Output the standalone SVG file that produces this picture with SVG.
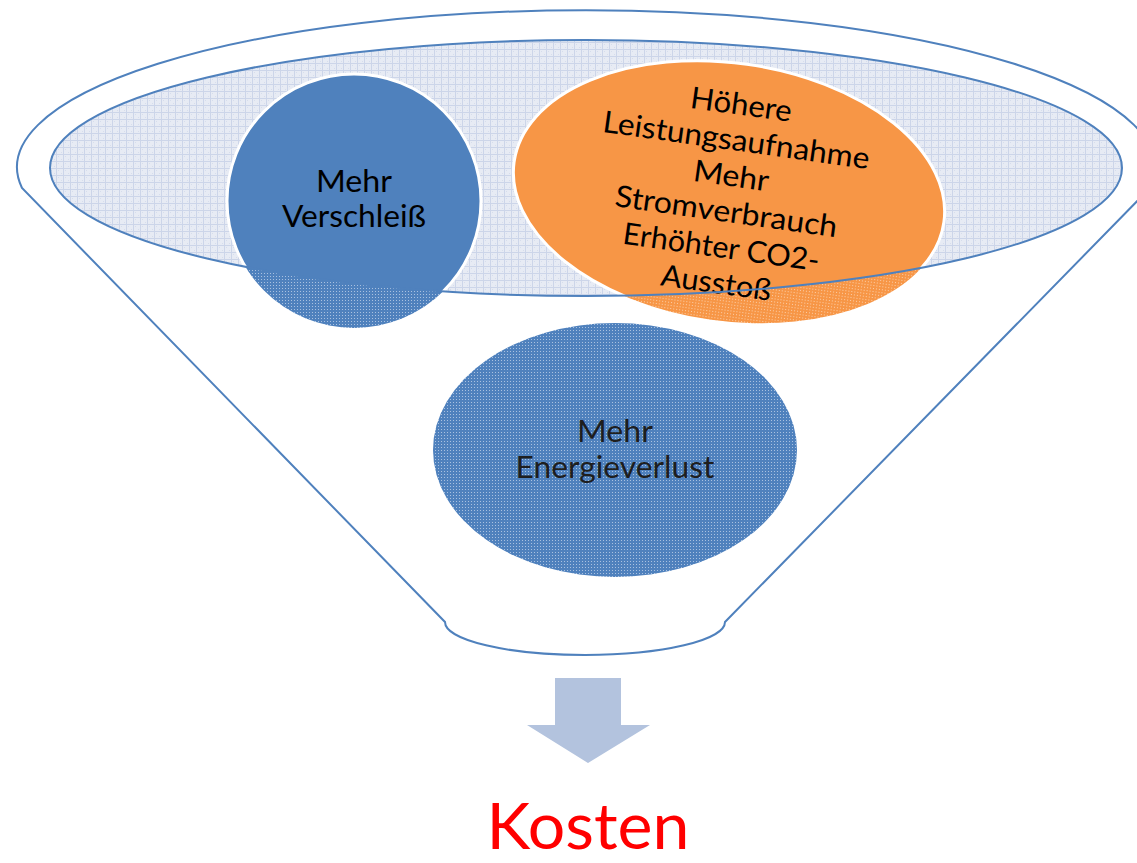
<svg xmlns="http://www.w3.org/2000/svg" width="1137" height="863" viewBox="0 0 1137 863">
<style>
.outline{fill:none;stroke:#4f81bd;stroke-width:2}
.lbl{font-family:Lato,"Open Sans","Liberation Sans",sans-serif;font-size:30px;fill:#000;text-anchor:middle}
.dark{fill:#1e1e1e}
.kosten{font-family:Lato,"Open Sans","Liberation Sans",sans-serif;font-size:64px;fill:#ff0000;text-anchor:middle}
</style>
<defs>
<pattern id="grid" width="7" height="7" patternUnits="userSpaceOnUse">
<rect width="7" height="7" fill="#e7ebf4"/>
<rect x="2" y="2" width="1" height="1" fill="#d6ddec"/>
<rect x="5" y="5" width="1" height="1" fill="#d6ddec"/>
<path d="M0 0.5H7M0.5 0V7" stroke="#ccd5e9" stroke-width="1"/>
</pattern>
<pattern id="dotB" width="3" height="3" patternUnits="userSpaceOnUse">
<rect width="3" height="3" fill="#4f81bd"/>
<rect width="1" height="1" fill="#a9c1e0"/>
</pattern>
<pattern id="dotO" width="3" height="3" patternUnits="userSpaceOnUse">
<rect width="3" height="3" fill="#f79646"/>
<rect width="1" height="1" fill="#fbcfa9"/>
</pattern>
<clipPath id="inner">
<ellipse cx="586" cy="168" rx="536" ry="128"/>
</clipPath>
<clipPath id="innerR">
<ellipse cx="586" cy="168" rx="536" ry="128" transform="rotate(-8 729 192)"/>
</clipPath>
</defs>

<g id="funnel">
<path class="outline" d="M22 188 A569 157 0 1 1 1150 188 L725 622 A140 33 0 0 1 445 622 Z"/>
<ellipse cx="586" cy="168" rx="536" ry="128" fill="url(#grid)"/>
</g>

<g id="node-verschleiss">
<circle cx="354" cy="201" r="127" fill="url(#dotB)"/>
<circle cx="354" cy="201" r="127" fill="#4f81bd" stroke="#ffffff" stroke-width="3" clip-path="url(#inner)"/>
<text class="lbl" x="354" y="192" textLength="76" lengthAdjust="spacingAndGlyphs">Mehr</text>
<text class="lbl" x="354" y="227" textLength="144" lengthAdjust="spacingAndGlyphs">Verschleiß</text>
</g>

<g id="node-leistung">
<g transform="rotate(8 729 192)">
<ellipse cx="729" cy="192" rx="217" ry="129" fill="url(#dotO)"/>
<ellipse cx="729" cy="192" rx="217" ry="129" fill="#f79646" stroke="#ffffff" stroke-width="3" clip-path="url(#innerR)"/>
<text class="lbl" x="729" y="114" textLength="102" lengthAdjust="spacingAndGlyphs">Höhere</text>
<text class="lbl" x="729" y="150" textLength="269" lengthAdjust="spacingAndGlyphs">Leistungsaufnahme</text>
<text class="lbl" x="729" y="186" textLength="76" lengthAdjust="spacingAndGlyphs">Mehr</text>
<text class="lbl" x="729" y="222" textLength="224" lengthAdjust="spacingAndGlyphs">Stromverbrauch</text>
<text class="lbl" x="729" y="258" textLength="198" lengthAdjust="spacingAndGlyphs">Erhöhter CO2-</text>
<text class="lbl" x="729" y="294" textLength="111" lengthAdjust="spacingAndGlyphs">Ausstoß</text>
</g>
</g>

<g id="node-energie">
<ellipse cx="615" cy="450" rx="182" ry="127" fill="url(#dotB)"/>
<text class="lbl dark" x="615" y="442" textLength="76" lengthAdjust="spacingAndGlyphs">Mehr</text>
<text class="lbl dark" x="615" y="478" textLength="199" lengthAdjust="spacingAndGlyphs">Energieverlust</text>
</g>

<g id="funnel-rim">
<ellipse class="outline" cx="586" cy="168" rx="536" ry="128"/>
</g>

<g id="connectors">
<polygon points="555,678 621,678 621,725 650,725 588,763 527,725 555,725" fill="#b3c3de"/>
</g>

<g id="node-kosten">
<text class="kosten" x="588" y="849" textLength="203" lengthAdjust="spacingAndGlyphs">Kosten</text>
</g>
</svg>
